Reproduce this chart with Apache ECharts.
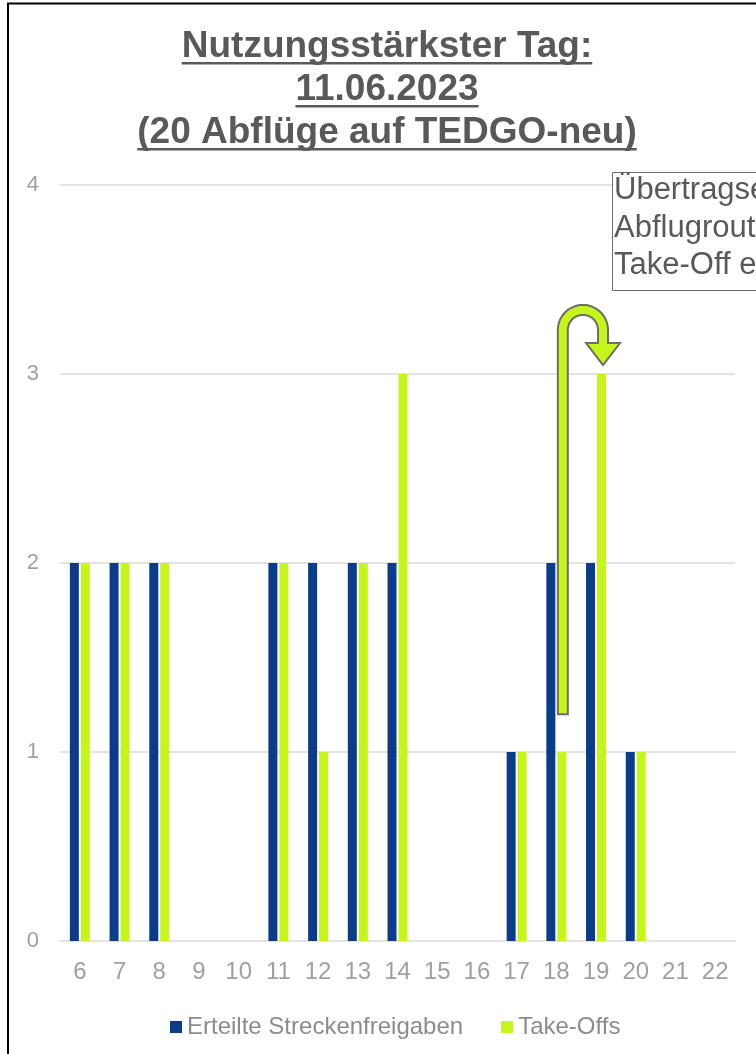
<!DOCTYPE html>
<html>
<head>
<meta charset="utf-8">
<script src="https://cdn.jsdelivr.net/npm/echarts@6/dist/echarts.min.js"></script>
<style>html,body{margin:0;padding:0;background:#fff}#c{width:756px;height:1054px}</style>
</head>
<body>
<div id="c"></div>
<script>
const hours = ['6','7','8','9','10','11','12','13','14','15','16','17','18','19','20','21','22'];
const freigaben = [2,2,2,0,0,2,2,2,2,0,0,1,2,2,1,0,0];
const takeOffs  = [2,2,2,0,0,2,1,2,3,0,0,1,1,3,1,0,0];
const yTicks = [0,1,2,3,4];
const titleLines = ['Nutzungsstärkster Tag:', '11.06.2023', '(20 Abflüge auf TEDGO-neu)'];
const noteLines = ['Übertragsereignis:', 'Abflugroute eingetragen,', 'Take-Off erst Stunde 19'];

const BLUE = '#0a3c8a', LIME = '#c6f51a', GRAY = '#595959', LIGHT = '#a0a0a0';
const FONT = '"Liberation Sans", Arial, sans-serif';

const chart = echarts.init(document.getElementById('c'), null, {renderer: 'canvas'});

const option = {
  animation: false,
  grid: {left: 60, right: 21, top: 185, bottom: 113, containLabel: false},
  legend: {
    left: 165, top: 1010, itemWidth: 12, itemHeight: 12, itemGap: 38, icon: 'rect',
    textStyle: {fontFamily: FONT, fontSize: 24, color: '#8c8c8c'},
    data: ['Erteilte Streckenfreigaben', 'Take-Offs']
  },
  xAxis: {
    type: 'category', data: hours,
    axisLine: {show: true, lineStyle: {color: '#e3e3e3', width: 2}},
    axisTick: {show: false},
    axisLabel: {margin: 19, fontFamily: FONT, fontSize: 24, color: LIGHT}
  },
  yAxis: {
    type: 'value', min: yTicks[0], max: yTicks[yTicks.length-1], interval: 1,
    axisLine: {show: false}, axisTick: {show: false},
    splitLine: {lineStyle: {color: '#e3e3e3', width: 2}},
    axisLabel: {margin: 21, fontFamily: FONT, fontSize: 22, color: LIGHT}
  },
  series: [
    {name: 'Erteilte Streckenfreigaben', type: 'bar', data: freigaben, barWidth: 9, barGap: '22%',
     itemStyle: {color: BLUE}},
    {name: 'Take-Offs', type: 'bar', data: takeOffs, barWidth: 9,
     itemStyle: {color: LIME}}
  ]
};
chart.setOption(option);

// Title with underlines
const TFONT = 'bold 37px ' + FONT;
const ctx = document.createElement('canvas').getContext('2d');
ctx.font = TFONT;
const cx = 387;
const gfx = [];
gfx.push({type: 'rect', shape: {x: 8, y: 3.5, width: 900, height: 1200}, style: {fill: 'none', stroke: '#000', lineWidth: 2}, z: 100});
titleLines.forEach((t, i) => {
  const y = 47 + i * 43;
  const w = ctx.measureText(t).width;
  gfx.push({type: 'text', x: cx, y: y, style: {text: t, font: TFONT, fill: GRAY, align: 'center', verticalAlign: 'middle'}});
  gfx.push({type: 'rect', shape: {x: cx - w/2, y: y + 15, width: w, height: 2.5}, style: {fill: GRAY}});
});

// annotation box
gfx.push({type: 'rect', shape: {x: 612.5, y: 172.5, width: 300, height: 118}, style: {fill: '#fff', stroke: '#6d6d6d', lineWidth: 1}, z: 50});
noteLines.forEach((t, i) => {
  gfx.push({type: 'text', x: 614, y: 190.5 + i * 37.5, style: {text: t, font: '31px ' + FONT, fill: GRAY, align: 'left', verticalAlign: 'middle'}, z: 51});
});

// U-arrow from 18 to 19, anchored to axis scales
const x18 = chart.convertToPixel({xAxisIndex: 0}, '18') + 6.5;
const x19 = chart.convertToPixel({xAxisIndex: 0}, '19') + 7;
const yBot = chart.convertToPixel({yAxisIndex: 0}, 1.2);
const yTip = chart.convertToPixel({yAxisIndex: 0}, 3) - 9;
const hw = 5;
const acx = (x18 + x19) / 2, acy = 330;
const rOut = (x19 - x18) / 2 + hw, rIn = (x19 - x18) / 2 - hw;
const headTop = yTip - 22;
const pts = [];
pts.push([x18 - hw, yBot]);
for (let k = 0; k <= 24; k++) {
  const a = Math.PI + Math.PI * k / 24;
  pts.push([acx + rOut * Math.cos(a), acy + rOut * Math.sin(a)]);
}
pts.push([x19 + hw, headTop]);
pts.push([x19 + 17, headTop]);
pts.push([x19, yTip]);
pts.push([x19 - 17, headTop]);
pts.push([x19 - hw, headTop]);
for (let k = 0; k <= 24; k++) {
  const a = 2 * Math.PI - Math.PI * k / 24;
  pts.push([acx + rIn * Math.cos(a), acy + rIn * Math.sin(a)]);
}
pts.push([x18 + hw, yBot]);
gfx.push({type: 'polygon', shape: {points: pts}, style: {fill: LIME, stroke: '#6d6d6d', lineWidth: 2, lineJoin: 'miter'}, z: 60});

chart.setOption({graphic: gfx});
</script>
</body>
</html>
